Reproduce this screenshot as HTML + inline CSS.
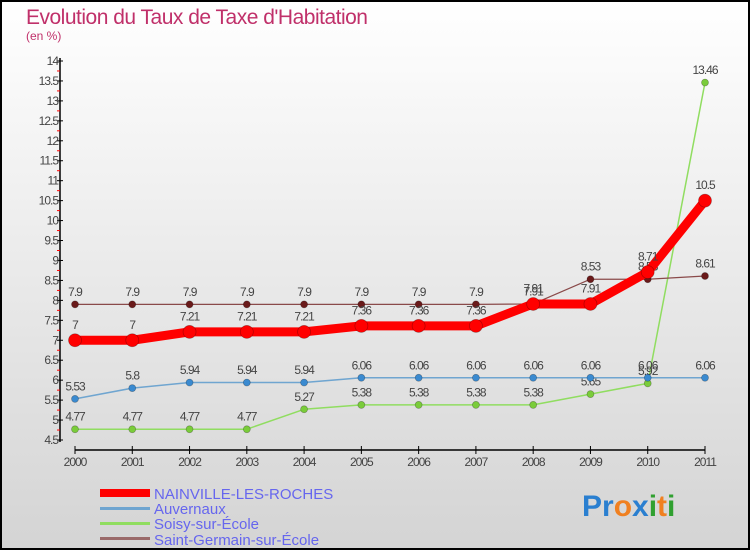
<!DOCTYPE html>
<html><head><meta charset="utf-8"><style>
html,body{margin:0;padding:0;}
body{width:750px;height:550px;overflow:hidden;font-family:"Liberation Sans",sans-serif;}
svg text{font-family:"Liberation Sans",sans-serif;}
</style></head><body>
<svg id="chart" width="750" height="550" xmlns="http://www.w3.org/2000/svg">
<defs><linearGradient id="bg" x1="0" y1="0" x2="0" y2="1"><stop offset="0" stop-color="#ffffff"/><stop offset="1" stop-color="#d4d4d4"/></linearGradient></defs>
<rect x="1" y="1" width="748" height="548" fill="url(#bg)" stroke="#000" stroke-width="2"/>
<text x="26" y="24" font-size="21" fill="#c0306a" letter-spacing="-0.5">Evolution du Taux de Taxe d'Habitation</text>
<text x="26" y="40" font-size="12" fill="#c0306a">(en %)</text>
<g id="axes"></g>
<g id="series"></g>
<g id="legend">
<rect x="100" y="489" width="50" height="8" fill="#f00"/>
<text x="154" y="499" font-size="15" fill="#6666ee">NAINVILLE-LES-ROCHES</text>
<rect x="100" y="507" width="50" height="3" fill="#6fa5d0"/>
<text x="154" y="514" font-size="15" fill="#6666ee">Auvernaux</text>
<rect x="100" y="522" width="50" height="3" fill="#90dd60"/>
<text x="154" y="529" font-size="15" fill="#6666ee">Soisy-sur-École</text>
<rect x="100" y="537" width="50" height="3" fill="#9a6a6a"/>
<text x="154" y="545" font-size="15" fill="#6666ee">Saint-Germain-sur-École</text>
</g>
<text x="582" y="516" font-size="30" font-weight="bold"><tspan fill="#2a7fd0">Pr</tspan><tspan fill="#f08020">o</tspan><tspan fill="#2a7fd0">x</tspan><tspan fill="#30a030">i</tspan><tspan fill="#f08020">t</tspan><tspan fill="#30a030">i</tspan></text>
</svg>
<script>
const years=["2000","2001","2002","2003","2004","2005","2006","2007","2008","2009","2010","2011"];
const nainville=[7,7,7.21,7.21,7.21,7.36,7.36,7.36,7.91,7.91,8.71,10.5];
const auvernaux=[5.53,5.8,5.94,5.94,5.94,6.06,6.06,6.06,6.06,6.06,6.06,6.06];
const soisy=[4.77,4.77,4.77,4.77,5.27,5.38,5.38,5.38,5.38,5.65,5.92,13.46];
const saintGermain=[7.9,7.9,7.9,7.9,7.9,7.9,7.9,7.9,7.91,8.53,8.53,8.61];
const yTicks=[4.5,5,5.5,6,6.5,7,7.5,8,8.5,9,9.5,10,10.5,11,11.5,12,12.5,13,13.5,14];
const NS="http://www.w3.org/2000/svg";
const x=i=>75+i*(630/11);
const y=v=>61+(14-v)*(379/9.5);
function mk(tag,attrs,parent,txt){const e=document.createElementNS(NS,tag);for(const k in attrs)e.setAttribute(k,attrs[k]);if(txt!==undefined)e.textContent=txt;parent.appendChild(e);return e;}
const ax=document.getElementById('axes');
let e=mk('line',{x1:60,y1:58,x2:60,y2:442,stroke:'#000','stroke-width':1.5},ax);


e=mk('line',{x1:75,y1:450,x2:705,y2:450,stroke:'#000','stroke-width':1.5},ax);


yTicks.forEach(t=>{
 e=mk('line',{x1:57,y1:y(t),x2:63,y2:y(t),stroke:'#000'},ax);
 
 
 if(t<14){e=mk('line',{x1:57,y1:y(t+0.25),x2:60,y2:y(t+0.25),stroke:'#f00'},ax);
 
 }
 e=mk('text',{x:58,y:y(t)+4,'font-size':12,fill:'#444','text-anchor':'end','letter-spacing':'-1'},ax,String(t));
 
 
});
years.forEach((yr,i)=>{
 e=mk('line',{x1:x(i),y1:446,x2:x(i),y2:454,stroke:'#000'},ax);
 
 
 e=mk('text',{x:x(i),y:466,'font-size':12,fill:'#444','text-anchor':'middle','letter-spacing':'-1'},ax,yr);
 
 
});
const sg=document.getElementById('series');
function draw(vals,name,color,w,r,ptColor){
 const g=mk('g',{},sg);
 
 
 const l=mk('polyline',{points:vals.map((v,i)=>x(i)+','+y(v)).join(' '),fill:'none',stroke:color,'stroke-width':w,'stroke-linejoin':'round'},g);
 
 
 vals.forEach((v,i)=>{
  const c=mk('circle',{cx:x(i),cy:y(v),r:r,fill:ptColor,stroke:'rgba(0,0,0,0.3)','stroke-width':0.7},g);
  
  
  const t=mk('text',{x:x(i),y:y(v)-(r+5),'font-size':12,fill:'#444','text-anchor':'middle','letter-spacing':'-1'},g,String(v));
  
  
 });
}
draw(soisy,'soisy','#90dd60',1.5,3.5,'#7acc3a');
draw(auvernaux,'auvernaux','#6fa5d0',1.5,3.5,'#3a8ad0');
draw(saintGermain,'saint-germain','#8a4a4a',1.2,3.5,'#6a1a1a');
draw(nainville,'nainville','#f00',9,6.5,'#f00');
</script>
</body></html>
